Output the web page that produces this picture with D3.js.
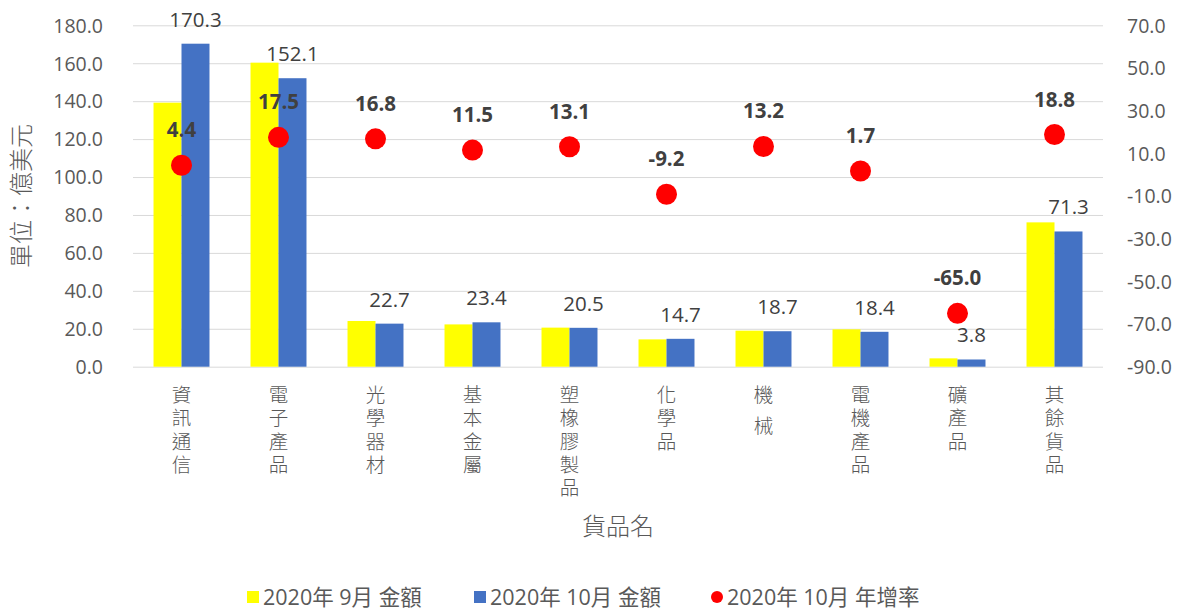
<!DOCTYPE html>
<html>
<head>
<meta charset="utf-8">
<script src="https://cdn.jsdelivr.net/npm/d3@7"></script>
<style>
  body { margin: 0; background: #fff; }
  svg text { font-family: "Open Sans", "Noto Sans CJK TC", sans-serif; }
  .grid line { stroke: #d9d9d9; }
  .tick-label { fill: #595959; font-size: 19.5px; }
  .cat-label { fill: #595959; font-size: 19.5px; font-family: "Noto Sans CJK TC", sans-serif; font-weight: 300;
               writing-mode: vertical-rl; letter-spacing: 3.9px; }
</style>
</head>
<body>
<svg id="chart" width="1189" height="612"></svg>
<script>
const categories = ["資訊通信", "電子產品", "光學器材", "基本金屬", "塑橡膠製品", "化學品", "機 械", "電機產品", "礦產品", "其餘貨品"];
const sepValues = [139.2, 160.3, 24.1, 22.3, 20.6, 14.4, 19.0, 19.7, 4.4, 76.1];
const octValues = [170.3, 152.1, 22.7, 23.4, 20.5, 14.7, 18.7, 18.4, 3.8, 71.3];
const growth = [4.4, 17.5, 16.8, 11.5, 13.1, -9.2, 13.2, 1.7, -65.0, 18.8];
const leftTicks = [0, 20, 40, 60, 80, 100, 120, 140, 160, 180];
const rightTicks = [-90, -70, -50, -30, -10, 10, 30, 50, 70];
const seriesNames = ["2020年 9月 金額", "2020年 10月 金額", "2020年 10月 年增率"];

const svg = d3.select("#chart");
const margin = { top: 25.3, right: 86, bottom: 245.3, left: 133 };
const width = +svg.attr("width");
const height = +svg.attr("height");
const plotBottom = height - margin.bottom;
const fmt = d => d.toFixed(1);

const x0 = d3.scaleBand().domain(categories)
    .range([margin.left, width - margin.right])
    .paddingInner(0.423).paddingOuter(0.2115);
const x1 = d3.scaleBand().domain(["sep", "oct"]).range([0, x0.bandwidth()]);
const yL = d3.scaleLinear().domain([0, 180]).range([plotBottom, margin.top]);
const yR = d3.scaleLinear().domain([-90, 70]).range([plotBottom, margin.top]);

// gridlines
svg.append("g").attr("class", "grid")
    .attr("transform", `translate(${margin.left},0)`)
    .call(d3.axisLeft(yL).tickValues(leftTicks).tickSize(-(width - margin.right - margin.left)).tickFormat(""))
    .call(g => g.select(".domain").remove());

// left axis
svg.append("g")
    .attr("transform", `translate(${margin.left - 30},0)`)
    .call(d3.axisLeft(yL).tickValues(leftTicks).tickSize(0).tickFormat(fmt))
    .call(g => g.select(".domain").remove())
    .selectAll("text").attr("class", "tick-label").attr("x", 0).attr("dy", "0.35em");

// right axis
svg.append("g")
    .attr("transform", `translate(${width - margin.right + 24},0)`)
    .call(d3.axisRight(yR).tickValues(rightTicks).tickSize(0).tickFormat(fmt))
    .call(g => g.select(".domain").remove())
    .selectAll("text").attr("class", "tick-label").attr("x", 0).attr("dy", "0.35em");

// category axis with vertical labels
svg.append("g")
    .attr("transform", `translate(0,${plotBottom})`)
    .call(d3.axisBottom(x0).tickSize(0))
    .call(g => g.select(".domain").remove())
    .selectAll(".tick text")
    .attr("class", "cat-label")
    .attr("x", 0).attr("y", 18).attr("dy", null)
    .attr("text-anchor", "start");

// bars
const groups = svg.append("g").selectAll("g")
    .data(categories)
    .join("g")
    .attr("transform", d => `translate(${x0(d)},0)`);

groups.append("rect")
    .attr("x", x1("sep"))
    .attr("width", x1.bandwidth())
    .attr("y", (d, i) => yL(sepValues[i]))
    .attr("height", (d, i) => plotBottom - yL(sepValues[i]))
    .attr("fill", "#ffff00");

groups.append("rect")
    .attr("x", x1("oct"))
    .attr("width", x1.bandwidth())
    .attr("y", (d, i) => yL(octValues[i]))
    .attr("height", (d, i) => plotBottom - yL(octValues[i]))
    .attr("fill", "#4472c4");

groups.append("text")
    .attr("x", x1("oct") + x1.bandwidth() / 2)
    .attr("y", (d, i) => yL(octValues[i]) - 17)
    .attr("text-anchor", "middle")
    .attr("fill", "#404040")
    .style("font-size", "20.5px")
    .text((d, i) => fmt(octValues[i]));

// growth dots
groups.append("circle")
    .attr("cx", x0.bandwidth() / 2)
    .attr("cy", (d, i) => yR(growth[i]))
    .attr("r", 10.5)
    .attr("fill", "#ff0000");

groups.append("text")
    .attr("x", x0.bandwidth() / 2)
    .attr("y", (d, i) => yR(growth[i]) - 28)
    .attr("text-anchor", "middle")
    .attr("fill", "#404040")
    .style("font-size", "20.5px")
    .style("font-weight", "bold")
    .text((d, i) => fmt(growth[i]));

// axis titles
svg.append("text")
    .attr("transform", `translate(30,${(margin.top + plotBottom) / 2}) rotate(-90)`)
    .attr("text-anchor", "middle")
    .attr("fill", "#595959")
    .style("font-size", "24px")
    .style("font-family", "'Noto Sans CJK TC', sans-serif")
    .style("font-weight", 300)
    .text("單位：億美元");

svg.append("text")
    .attr("x", (margin.left + width - margin.right) / 2)
    .attr("y", 535)
    .attr("text-anchor", "middle")
    .attr("fill", "#595959")
    .style("font-size", "24px")
    .style("font-family", "'Noto Sans CJK TC', sans-serif")
    .style("font-weight", 300)
    .text("貨品名");

// legend
const legendX = [247, 474, 711];
const legendColors = ["#ffff00", "#4472c4", "#ff0000"];
const legend = svg.append("g").selectAll("g")
    .data(seriesNames)
    .join("g")
    .attr("transform", (d, i) => `translate(${legendX[i]},597)`);
legend.each(function(d, i) {
    const g = d3.select(this);
    if (i < 2) {
        g.append("rect").attr("x", 0).attr("y", -6).attr("width", 12).attr("height", 12).attr("fill", legendColors[i]);
    } else {
        g.append("circle").attr("cx", 6).attr("cy", 0).attr("r", 6).attr("fill", legendColors[i]);
    }
    g.append("text")
        .attr("x", 16)
        .attr("dy", "0.35em")
        .attr("fill", "#595959")
        .style("font-size", "21.5px")
        .text(d);
});
</script>
</body>
</html>
